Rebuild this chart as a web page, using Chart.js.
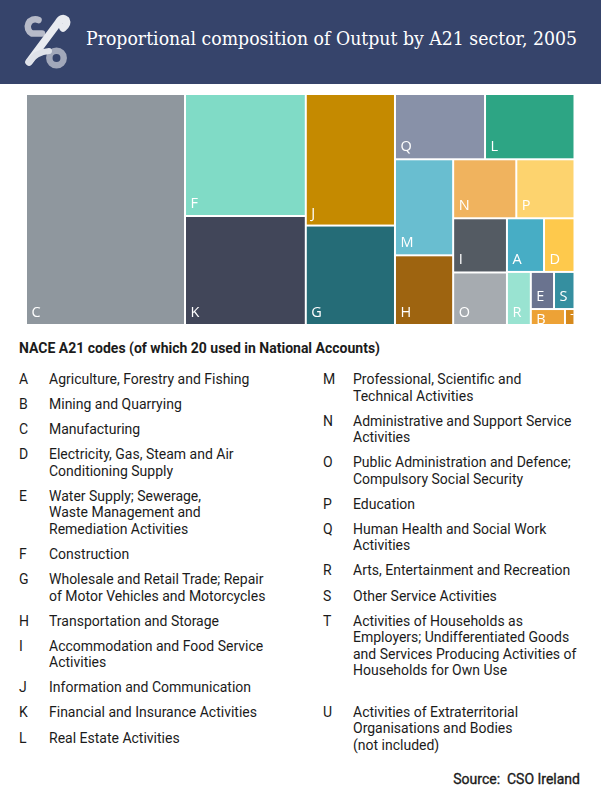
<!DOCTYPE html>
<html>
<head>
<meta charset="utf-8">
<script src="https://cdn.jsdelivr.net/npm/chart.js@4/dist/chart.umd.min.js"></script>
<style>
  html, body { margin:0; padding:0; background:#fff; }
  body { width:601px; height:800px; position:relative; overflow:hidden; font-family: Roboto, "Noto Sans", sans-serif; color:#1b1b1b; }
  #header { position:absolute; left:0; top:0; width:601px; height:84px; background:#36446b; }
  #chartBox { position:absolute; left:0; top:84px; width:601px; height:250px; }
  #legTitle { position:absolute; left:19px; top:340px; font-size:14px; font-weight:700; line-height:17px; }
  .col { position:absolute; top:371px; }
  .item { display:flex; font-size:14px; line-height:16.5px; margin-bottom:8.6px; }
  .code { width:30px; flex:none; }
  .txt { white-space:pre-line; }
  #source { position:absolute; right:21px; top:771px; font-size:14px; font-weight:400; line-height:17px; white-space:pre; -webkit-text-stroke:0.35px #1b1b1b; }
</style>
</head>
<body>
<div id="header">
  <svg width="601" height="84" xmlns="http://www.w3.org/2000/svg">
    <path d="M 38.5 20 A 7.2 7.2 0 1 0 32 33.5 L 42 33.5" fill="none" stroke="#b7bbc9" stroke-width="6.5" stroke-linecap="round" stroke-linejoin="round"/>
    <circle cx="56.5" cy="58" r="7.2" fill="none" stroke="#a2a8ba" stroke-width="6.5"/>
    <path d="M 29 62 L 58 23 Q 62 16 66 20 Q 68 24 63 28" fill="none" stroke="#e9ebf0" stroke-width="7.5" stroke-linecap="round" stroke-linejoin="round"/>
    <path d="M 29 62 Q 36 52 49 51" fill="none" stroke="#dfe2e9" stroke-width="6" stroke-linecap="round"/>
    <text id="titleText" x="86" y="44.5" fill="#ffffff" font-family="DejaVu Serif" font-size="19" textLength="491" lengthAdjust="spacingAndGlyphs">Proportional composition of Output by A21 sector, 2005</text>
  </svg>
</div>
<div id="chartBox"><canvas id="c"></canvas></div>
<div id="legTitle">NACE A21 codes (of which 20 used in National Accounts)</div>
<div class="col" id="colL" style="left:19px;"></div>
<div class="col" id="colR" style="left:323px;"></div>
<div id="source">Source:  CSO Ireland</div>
<script>
// ---- data (share of Output, %) ----
const sectorCodes  = ['C','F','K','J','G','Q','L','M','H','N','P','I','O','A','D','R','E','S','B','T'];
const outputShare  = [28.99,11.63,10.39,9.26,7.00,4.64,4.61,4.41,3.20,2.94,2.71,2.30,2.23,1.57,1.29,1.00,0.68,0.60,0.43,0.12];
const sectorColors = ['#8f979e','#80dbc6','#414659','#c58a00','#256c77','#8891a8','#2da584','#69bed0','#9e6410',
                      '#f0b35e','#fdd36e','#545b63','#a6abb0','#47adc5','#fec94c','#99e3d1','#6a738f','#358fa0','#eda236','#d6891c'];
const legendLeftCodes = ['A','B','C','D','E','F','G','H','I','J','K','L'];
const legendLeftNames = ['Agriculture, Forestry and Fishing','Mining and Quarrying','Manufacturing',
  'Electricity, Gas, Steam and Air\nConditioning Supply','Water Supply; Sewerage,\nWaste Management and\nRemediation Activities',
  'Construction','Wholesale and Retail Trade; Repair\nof Motor Vehicles and Motorcycles','Transportation and Storage',
  'Accommodation and Food Service\nActivities','Information and Communication','Financial and Insurance Activities','Real Estate Activities'];
const legendRightCodes = ['M','N','O','P','Q','R','S','T','U'];
const legendRightNames = ['Professional, Scientific and\nTechnical Activities','Administrative and Support Service\nActivities',
  'Public Administration and Defence;\nCompulsory Social Security','Education','Human Health and Social Work\nActivities',
  'Arts, Entertainment and Recreation','Other Service Activities',
  'Activities of Households as\nEmployers; Undifferentiated Goods\nand Services Producing Activities of\nHouseholds for Own Use\n\u00a0',
  'Activities of Extraterritorial\nOrganisations and Bodies\n(not included)'];

function fillCol(el, codes, names){
  codes.forEach((c,i)=>{
    const d=document.createElement('div'); d.className='item';
    const a=document.createElement('div'); a.className='code'; a.textContent=c;
    const b=document.createElement('div'); b.className='txt'; b.textContent=names[i];
    d.appendChild(a); d.appendChild(b); el.appendChild(d);
  });
}
fillCol(document.getElementById('colL'), legendLeftCodes, legendLeftNames);
fillCol(document.getElementById('colR'), legendRightCodes, legendRightNames);

// squarified treemap layout (rows along the shorter side)
const TILE_RATIO = 0.915;
function squarify(vals, x0, y0, x1, y1, ratio){
  const n = vals.length, out = new Array(n);
  let value = vals.reduce((s,v)=>s+v,0), i0 = 0, i1 = 0;
  while (i0 < n) {
    const dx = x1-x0, dy = y1-y0;
    let sum = vals[i1++], minV = sum, maxV = sum;
    const alpha = Math.max(dy/dx, dx/dy)/(value*ratio);
    let beta = sum*sum*alpha;
    let minRatio = Math.max(maxV/beta, beta/minV);
    for (; i1 < n; ++i1) {
      const v = vals[i1]; sum += v;
      if (v < minV) minV = v; if (v > maxV) maxV = v;
      beta = sum*sum*alpha;
      const r = Math.max(maxV/beta, beta/minV);
      if (r > minRatio) { sum -= v; break; }
      minRatio = r;
    }
    if (dx < dy) {
      const ny = y0 + dy*sum/value; let x = x0;
      for (let i=i0;i<i1;i++){ const w = dx*vals[i]/sum; out[i]={x0:x,y0:y0,x1:x+w,y1:ny}; x+=w; }
      y0 = ny;
    } else {
      const nx = x0 + dx*sum/value; let y = y0;
      for (let i=i0;i<i1;i++){ const h = dy*vals[i]/sum; out[i]={x0:x0,y0:y,x1:nx,y1:y+h}; y+=h; }
      x0 = nx;
    }
    value -= sum; i0 = i1;
  }
  return out;
}

const treemapPlugin = {
  id: 'treemapCells',
  afterDatasetsDraw(chart){
    const ctx = chart.ctx, xs = chart.scales.x, ys = chart.scales.y, a = chart.chartArea;
    const W = a.right - a.left, H = a.bottom - a.top;
    const cells = squarify(outputShare, 0, 0, W, H, TILE_RATIO);
    const X0 = xs.min, XR = xs.max - xs.min, Y0 = ys.min, YR = ys.max - ys.min;
    cells.forEach((c,i)=>{
      const px0 = xs.getPixelForValue(X0 + XR*c.x0/W), px1 = xs.getPixelForValue(X0 + XR*c.x1/W);
      const py0 = ys.getPixelForValue(Y0 + YR*c.y0/H), py1 = ys.getPixelForValue(Y0 + YR*c.y1/H);
      const l = Math.min(px0,px1)+1, r = Math.max(px0,px1)-1, t = Math.min(py0,py1)+1, b = Math.max(py0,py1)-1;
      ctx.save();
      ctx.fillStyle = sectorColors[i];
      ctx.fillRect(l, t, r-l, b-t);
      ctx.beginPath(); ctx.rect(l, t, r-l, b-t); ctx.clip();
      ctx.fillStyle = '#ffffff';
      ctx.font = '14.5px "Open Sans"';
      ctx.textBaseline = 'alphabetic';
      const base = Math.max(b - 7, t + 14);
      ctx.fillText(sectorCodes[i], l + 4.5, base);
      ctx.restore();
    });
  }
};

new Chart(document.getElementById('c'), {
  type: 'scatter',
  data: { labels: sectorCodes, datasets: [{ label: 'Output share (%)', data: [] }] },
  options: {
    responsive: true, maintainAspectRatio: false, animation: false,
    layout: { padding: { left: 26, right: 26.5, top: 10, bottom: 9 } },
    scales: {
      x: { type:'linear', min:0, max:100, display:false },
      y: { type:'linear', min:0, max:100, reverse:true, display:false }
    },
    plugins: { legend: { display:false }, tooltip: { enabled:false } }
  },
  plugins: [treemapPlugin]
});
</script>
</body>
</html>
